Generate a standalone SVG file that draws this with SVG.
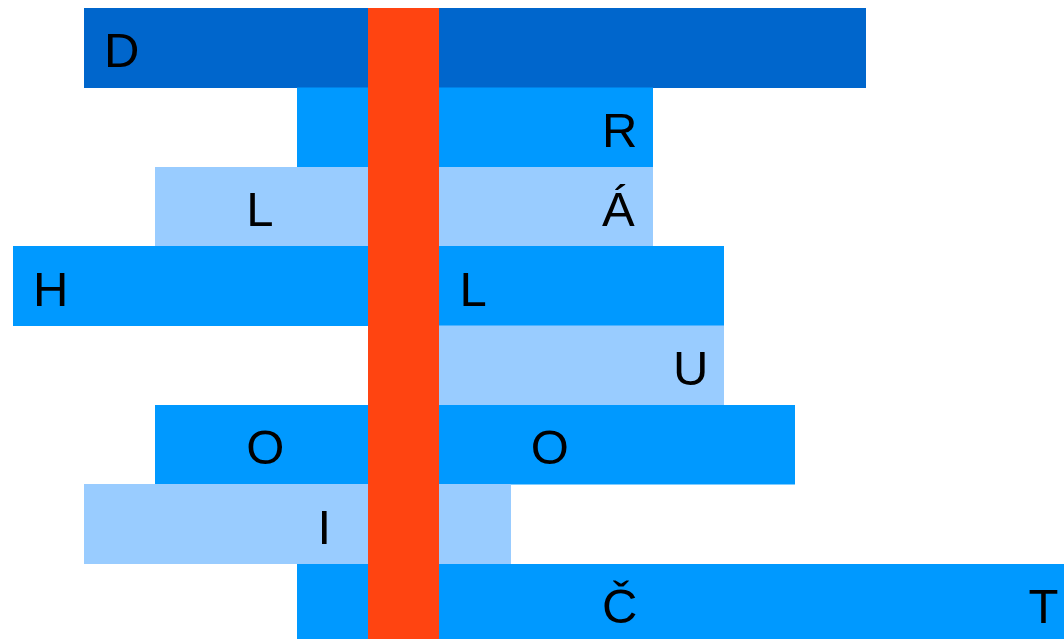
<svg xmlns="http://www.w3.org/2000/svg" width="1064" height="639" viewBox="0 0 1064 639">
<style>
.dk{fill:#0066CC}
.md{fill:#0099FF}
.lt{fill:#99CCFF}
.rd{fill:#FF4411}
text{font-family:"Liberation Sans",Arial,sans-serif;font-size:49px;fill:#000}
</style>
<rect width="1064" height="639" fill="#FFFFFF"/>
<g id="row1"><rect class="dk" x="84" y="8" width="782" height="80"/><text x="104" y="67.3">D</text></g>
<g id="row2"><rect class="md" x="297" y="87.5" width="356" height="80"/><text x="602" y="146.8">R</text></g>
<g id="row3"><rect class="lt" x="155" y="167" width="498" height="79.5"/><text x="246.3" y="226.3">L</text><text x="602" y="226.3">Á</text></g>
<g id="row4"><rect class="md" x="13" y="246" width="711" height="80"/><text x="33" y="305.7">H</text><text x="459.5" y="305.7">L</text></g>
<g id="row5"><rect class="lt" x="439" y="325.5" width="285" height="80"/><text x="673" y="385">U</text></g>
<g id="row6"><rect class="md" x="155" y="405" width="640" height="79.5"/><text x="246.3" y="464.4">O</text><text x="530.7" y="464.4">O</text></g>
<g id="row7"><rect class="lt" x="84" y="484" width="427" height="80"/><text x="317.4" y="543.5">I</text></g>
<g id="row8"><rect class="md" x="297" y="564" width="767" height="75"/><text x="602" y="623.3">Č</text><text x="1028.4" y="623.3">T</text></g>
<g id="column"><rect class="rd" x="368" y="8" width="71" height="631"/></g>
<g id="connectors"/>
</svg>
